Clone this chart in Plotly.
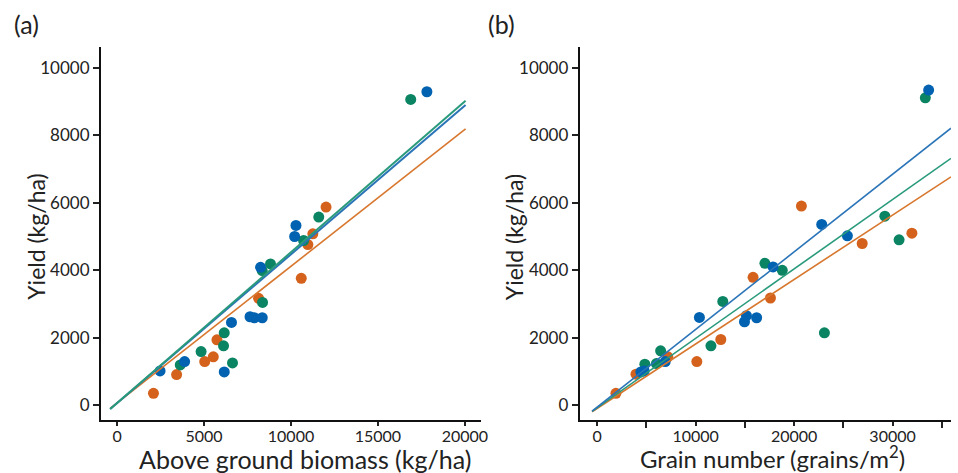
import plotly.graph_objects as go

# ---------------- data ----------------
# Panel (a): above ground biomass (kg/ha) vs yield (kg/ha)
a_blue_x = [17815, 2470, 3880, 6160, 6577, 7644, 7890, 8346, 8250, 10285, 10210]
a_blue_y = [9295, 1012, 1289, 982, 2450, 2619, 2589, 2589, 4087, 5327, 5000]
a_green_x = [16885, 11597, 10725, 8820, 8346, 8363, 6160, 6120, 4828, 6635, 3630]
a_green_y = [9068, 5575, 4881, 4187, 3988, 3045, 2143, 1756, 1587, 1250, 1190]
a_orange_x = [12015, 11255, 10969, 10590, 8136, 5741, 5531, 5037, 3421, 2090]
a_orange_y = [5873, 5079, 4762, 3760, 3165, 1934, 1429, 1289, 903, 347]

# Panel (b): grain number (grains/m2) vs yield (kg/ha)
b_blue_x = [33666, 22807, 25413, 17866, 10382, 15161, 16193, 14960, 6911, 4770, 4435]
b_blue_y = [9345, 5357, 5020, 4098, 2598, 2649, 2589, 2470, 1289, 1012, 982]
b_green_x = [33328, 29219, 30662, 17035, 18799, 12756, 23078, 11554, 6443, 4840, 6012]
b_green_y = [9116, 5604, 4902, 4205, 3997, 3074, 2143, 1756, 1607, 1211, 1230]
b_orange_x = [20743, 31964, 26916, 15833, 17596, 12556, 10120, 7175, 3938, 1902]
b_orange_y = [5903, 5099, 4792, 3790, 3175, 1944, 1289, 1429, 913, 347]

# Regression fits (intercept, slope) and x extent of drawn lines
a_fit = {"blue": (60, 0.4411), "green": (60, 0.4475), "orange": (60, 0.4057)}
a_fit_x = [-400, 20040]
b_fit = {"blue": (-60, 0.2302), "green": (-80, 0.2059), "orange": (-100, 0.1912)}
b_fit_x = [-520, 35936]

y_ticks = [0, 2000, 4000, 6000, 8000, 10000]
a_x_ticks = [0, 5000, 10000, 15000, 20000]
b_x_ticks = [0, 10000, 20000, 30000]
b_x_minor = [5000, 15000, 25000, 35000]

# ---------------- styles ----------------
mcol = {"blue": "#0062B0", "green": "#0A8462", "orange": "#D4621C"}
lcol = {"blue": "#2A74B8", "green": "#2A9A7C", "orange": "#D8772E"}
FONT = "Lato, Open Sans, sans-serif"

fig = go.Figure()

def add_points(xs, ys, color, xa, ya):
    fig.add_trace(go.Scatter(x=xs, y=ys, mode="markers", xaxis=xa, yaxis=ya,
                             marker=dict(size=11, color=color, line=dict(width=0)),
                             showlegend=False, hoverinfo="skip"))

def add_line(fit, xr, color, xa, ya, w=1.6):
    a, b = fit
    fig.add_trace(go.Scatter(x=xr, y=[a + b * v for v in xr], mode="lines",
                             xaxis=xa, yaxis=ya, line=dict(color=color, width=w),
                             showlegend=False, hoverinfo="skip"))

# Panel a
add_points(a_orange_x, a_orange_y, mcol["orange"], "x", "y")
add_points(a_green_x, a_green_y, mcol["green"], "x", "y")
add_points(a_blue_x, a_blue_y, mcol["blue"], "x", "y")
add_line(a_fit["orange"], a_fit_x, lcol["orange"], "x", "y")
add_line(a_fit["blue"], a_fit_x, lcol["blue"], "x", "y", 2.0)
add_line(a_fit["green"], a_fit_x, lcol["green"], "x", "y", 2.0)

# Panel b
add_points(b_orange_x, b_orange_y, mcol["orange"], "x2", "y2")
add_points(b_green_x, b_green_y, mcol["green"], "x2", "y2")
add_points(b_blue_x, b_blue_y, mcol["blue"], "x2", "y2")
add_line(b_fit["orange"], b_fit_x, lcol["orange"], "x2", "y2")
add_line(b_fit["green"], b_fit_x, lcol["green"], "x2", "y2")
add_line(b_fit["blue"], b_fit_x, lcol["blue"], "x2", "y2")

W, H = 958, 473
yd = [1 - 420 / H, 1 - 47 / H]

common_y = dict(range=[-445, 10623], tickvals=y_ticks, tickformat="d", ticks="outside",
                ticklen=6, tickwidth=2, tickcolor="#222", showline=True,
                linecolor="#111", linewidth=2, showgrid=False, zeroline=False,
                tickfont=dict(family=FONT, size=17, color="#222"), domain=yd)

common_x = dict(tickformat="d", ticks="outside", ticklen=4, tickwidth=2,
                tickcolor="#222", showline=True, linecolor="#111", linewidth=2,
                showgrid=False, zeroline=False, ticklabelstandoff=-3,
                tickfont=dict(family=FONT, size=16, color="#222"))

fig.update_layout(
    width=W, height=H, autosize=False, margin=dict(l=0, r=0, t=0, b=0, pad=0),
    paper_bgcolor="white", plot_bgcolor="white",
    xaxis=dict(domain=[101.7 / W, 484.3 / W], range=[-930, 20913], tickvals=a_x_ticks,
               anchor="y", **common_x),
    yaxis=dict(anchor="x", **common_y),
    xaxis2=dict(domain=[584 / W, 1.0], range=[-1773, 35936], tickvals=b_x_ticks,
                minor=dict(tickvals=b_x_minor, ticks="outside", ticklen=6,
                           tickwidth=2, tickcolor="#222"),
                anchor="y2", **common_x),
    yaxis2=dict(anchor="x2", **common_y),
    annotations=[
        dict(text="(a)", x=12 / W, y=1 - 24 / H, xref="paper", yref="paper",
             xanchor="left", yanchor="middle", showarrow=False,
             font=dict(family=FONT, size=25, color="#222")),
        dict(text="(b)", x=490 / W, y=1 - 24 / H, xref="paper", yref="paper",
             xanchor="left", yanchor="middle", showarrow=False,
             font=dict(family=FONT, size=25, color="#222")),
        dict(text="Yield (kg/ha)", x=36 / W, y=1 - 237 / H, xref="paper", yref="paper",
             xanchor="center", yanchor="middle", textangle=-90, showarrow=False,
             font=dict(family=FONT, size=23, color="#222")),
        dict(text="Yield (kg/ha)", x=518 / W, y=1 - 237 / H, xref="paper", yref="paper",
             xanchor="center", yanchor="middle", textangle=-90, showarrow=False,
             font=dict(family=FONT, size=23, color="#222")),
        dict(text="Above ground biomass (kg/ha)", x=307 / W, y=1 - 459 / H,
             xref="paper", yref="paper", xanchor="center", yanchor="middle",
             showarrow=False, font=dict(family=FONT, size=25, color="#222")),
        dict(text="Grain number (grains/m<sup>2</sup>)", x=778 / W, y=1 - 457 / H,
             xref="paper", yref="paper", xanchor="center", yanchor="middle",
             showarrow=False, font=dict(family=FONT, size=24, color="#222")),
    ],
)

fig.write_html("out.html")
